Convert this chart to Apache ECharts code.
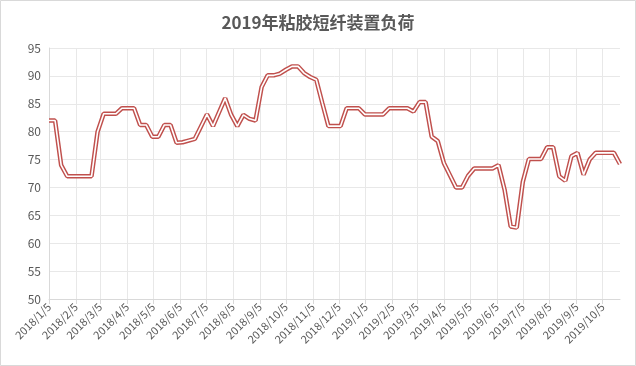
<!DOCTYPE html>
<html>
<head>
<meta charset="utf-8">
<script src="https://cdn.jsdelivr.net/npm/echarts@6/dist/echarts.min.js"></script>
<style>html,body{margin:0;padding:0;background:#fff;}#c{width:636px;height:366px;}</style>
</head>
<body>
<div id="c"></div>
<script>
var titleText = '2019年粘胶短纤装置负荷';
var dates = [
'2018/1/5','2018/1/12','2018/1/19','2018/1/26','2018/2/2','2018/2/9','2018/2/16','2018/2/23',
'2018/3/2','2018/3/9','2018/3/16','2018/3/23','2018/3/30','2018/4/6','2018/4/13','2018/4/20','2018/4/27',
'2018/5/4','2018/5/11','2018/5/18','2018/5/25','2018/6/1','2018/6/8','2018/6/15','2018/6/22','2018/6/29',
'2018/7/6','2018/7/13','2018/7/20','2018/7/27','2018/8/3','2018/8/10','2018/8/17','2018/8/24','2018/8/31',
'2018/9/7','2018/9/14','2018/9/21','2018/9/28','2018/10/5','2018/10/12','2018/10/19','2018/10/26',
'2018/11/2','2018/11/9','2018/11/16','2018/11/23','2018/11/30','2018/12/7','2018/12/14','2018/12/21','2018/12/28',
'2019/1/4','2019/1/11','2019/1/18','2019/1/25','2019/2/1','2019/2/8','2019/2/15','2019/2/22',
'2019/3/1','2019/3/8','2019/3/15','2019/3/22','2019/3/29','2019/4/5','2019/4/12','2019/4/19','2019/4/26',
'2019/5/3','2019/5/10','2019/5/17','2019/5/24','2019/5/31','2019/6/7','2019/6/14','2019/6/21','2019/6/28',
'2019/7/5','2019/7/12','2019/7/19','2019/7/26','2019/8/2','2019/8/9','2019/8/16','2019/8/23','2019/8/30',
'2019/9/6','2019/9/13','2019/9/20','2019/9/27','2019/10/4','2019/10/11','2019/10/18','2019/10/25'
];
var load = [
82,82,74,72,72,72,72,72,
80,83.2,83.2,83.2,84.2,84.2,84.2,81.2,81.2,
79.1,79.1,81.2,81.2,78,78.1,78.4,78.7,80.9,
83.1,81,83.5,86,83,81,83,82.3,82,
88,90.1,90.1,90.4,91.1,91.7,91.7,90.5,
89.8,89.3,85.1,81,81,81,84.2,84.2,84.2,
83.1,83.1,83.1,83.1,84.2,84.2,84.2,84.2,
83.6,85.3,85.3,79.1,78.3,74.4,72.2,70,70,
72.1,73.4,73.4,73.4,73.4,74,69.6,63,62.8,
71,75.1,75.1,75.1,77.2,77.2,72,71.2,75.6,
76.2,72.3,75,76.2,76.2,76.2,76.2,74.2
];
var tickLabels = ['2018/1/5','2018/2/5','2018/3/5','2018/4/5','2018/5/5','2018/6/5','2018/7/5','2018/8/5',
'2018/9/5','2018/10/5','2018/11/5','2018/12/5','2019/1/5','2019/2/5','2019/3/5','2019/4/5','2019/5/5',
'2019/6/5','2019/7/5','2019/8/5','2019/9/5','2019/10/5'];

function toTs(s){var p=s.split('/');return new Date(+p[0],+p[1]-1,+p[2]).getTime();}
function fmt(v){var d=new Date(v);return d.getFullYear()+'/'+(d.getMonth()+1)+'/'+d.getDate();}
var tickTs = tickLabels.map(toTs);
var seriesData = dates.map(function(d,i){return [toTs(d), load[i]];});

var chart = echarts.init(document.getElementById('c'), null, {renderer:'canvas'});
chart.setOption({
  animation:false,
  backgroundColor:'#fff',
  graphic:[{type:'rect',shape:{x:0.5,y:0.5,width:635,height:365},style:{fill:'none',stroke:'#d9d9d9',lineWidth:1},silent:true}],
  title:{text:titleText,left:'center',top:9,textStyle:{fontSize:17,fontWeight:'bold',color:'#595959',fontFamily:'Noto Sans CJK SC'}},
  grid:{left:49,right:16,top:48,bottom:67},
  xAxis:{
    type:'value',
    min:toTs(dates[0]),max:toTs(dates[dates.length-1]),
    axisLine:{lineStyle:{color:'#d9d9d9'}},
    axisTick:{show:true,length:5,lineStyle:{color:'#d9d9d9'},customValues:tickTs},
    axisLabel:{rotate:45,color:'#595959',fontSize:11,fontFamily:'Noto Sans CJK SC',margin:6,customValues:tickTs,formatter:function(v){return fmt(v);},hideOverlap:false},
    splitLine:{show:true,lineStyle:{color:'#e8e8e8'}}
  },
  yAxis:{
    type:'value',min:50,max:95,interval:5,
    axisLine:{show:true,lineStyle:{color:'#d9d9d9'}},
    axisTick:{show:false},
    axisLabel:{color:'#595959',fontSize:12,margin:8,fontFamily:'Noto Sans CJK SC'},
    splitLine:{show:true,lineStyle:{color:'#e8e8e8'}}
  },
  series:[
    {type:'line',data:seriesData,showSymbol:false,lineStyle:{color:'#c0504d',width:4.5},z:2},
    {type:'line',data:seriesData,showSymbol:false,lineStyle:{color:'#ffffff',width:1.6},z:3}
  ]
});
</script>
</body>
</html>
